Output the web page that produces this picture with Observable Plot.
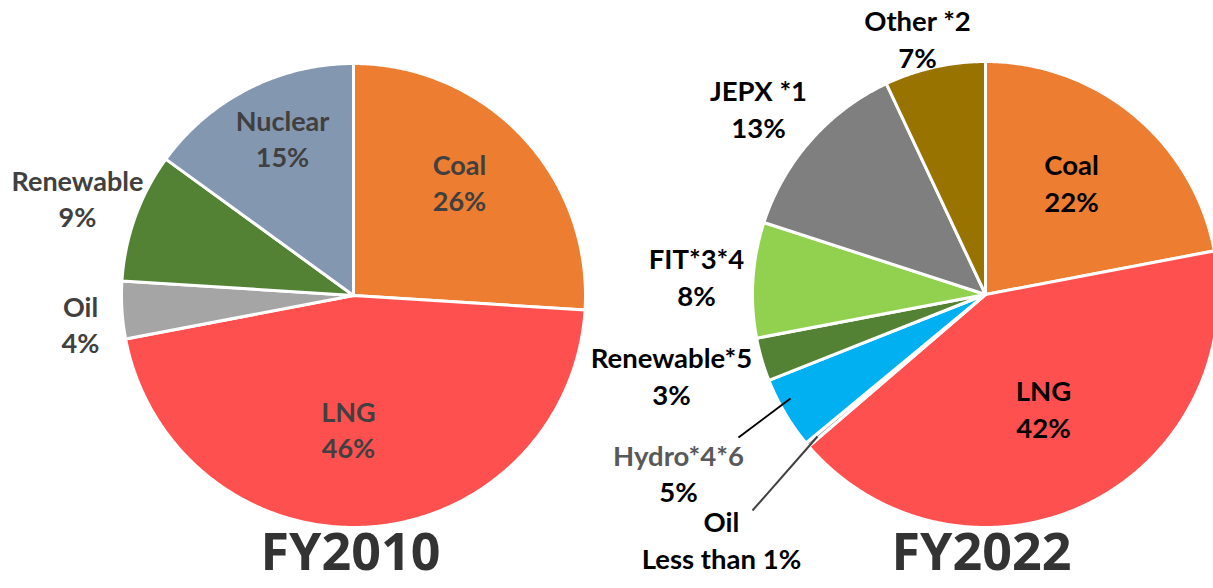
<!DOCTYPE html>
<html>
<head>
<meta charset="utf-8">
<script src="https://cdn.jsdelivr.net/npm/d3@7"></script>
<script src="https://cdn.jsdelivr.net/npm/@observablehq/plot@0.6"></script>
<style>
  html, body { margin: 0; padding: 0; background: #fff; }
  #chart svg { display: block; }
</style>
</head>
<body>
<div id="chart"></div>
<script>
// ---- Data (clockwise from 12 o'clock) ----
const fy2010Sources = ["Coal", "LNG", "Oil", "Renewable", "Nuclear"];
const fy2010Shares  = [26, 46, 4, 9, 15];
const fy2010Colors  = ["#ED7D31", "#FF5050", "#A5A5A5", "#548235", "#8497B0"];
const fy2010Pct     = ["26%", "46%", "4%", "9%", "15%"];

const fy2022Sources = ["Coal", "LNG", "Oil", "Hydro*4*6", "Renewable*5", "FIT*3*4", "JEPX *1", "Other *2"];
const fy2022Shares  = [22, 41.7, 0.3, 5, 3, 8, 13, 7];
const fy2022Colors  = ["#ED7D31", "#FF5050", "#A5A5A5", "#00B0F0", "#548235", "#92D050", "#7F7F7F", "#997300"];
const fy2022Pct     = ["22%", "42%", "Less than 1%", "5%", "3%", "8%", "13%", "7%"];

const titles = ["FY2010", "FY2022"];

// ---- Layout ----
const W = 1213, H = 588;
const pies = [
  {cx: 353, cy: 295, r: 232},
  {cx: 985, cy: 294, r: 233}
];
// label anchor: x center, baseline of last line
const labelPos2010 = {
  "Coal": [459, 210], "LNG": [348, 457], "Oil": [80, 352], "Renewable": [77, 226], "Nuclear": [282, 166]
};
const labelPos2022 = {
  "Coal": [1071, 211], "LNG": [1043, 437], "Oil": [721, 568],
  "Renewable*5": [671, 404], "FIT*3*4": [696, 305], "JEPX *1": [758, 137], "Other *2": [917, 67]
};
const hydroNamePos = [678, 465], hydroPctPos = [678, 501];
const leaders = [
  {x1: 790, y1: 398, x2: 738, y2: 437, stroke: "#000"},
  {x1: 817, y1: 436, x2: 752, y2: 510, stroke: "#404040"}
];
const titlePos = [[350, 569], [981, 569]];

// ---- Build slice polygons from the data ----
function slices(names, values, colors, pie, key) {
  const total = d3.sum(values);
  const pts = [];
  let cum = 0;
  names.forEach((name, i) => {
    const a0 = cum / total * 2 * Math.PI;
    cum += values[i];
    const a1 = cum / total * 2 * Math.PI;
    const id = key + ":" + name;
    pts.push({id, color: colors[i], x: pie.cx, y: pie.cy});
    const n = Math.max(2, Math.ceil((a1 - a0) / (Math.PI / 360)));
    for (let k = 0; k <= n; k++) {
      const a = a0 + (a1 - a0) * k / n;
      pts.push({id, color: colors[i], x: pie.cx + pie.r * Math.sin(a), y: pie.cy - pie.r * Math.cos(a)});
    }
  });
  return pts;
}
const slicePts = [
  ...slices(fy2010Sources, fy2010Shares, fy2010Colors, pies[0], "2010"),
  ...slices(fy2022Sources, fy2022Shares, fy2022Colors, pies[1], "2022")
];

const labels2010 = fy2010Sources.map((s, i) => ({
  text: s + "\n" + fy2010Pct[i], x: labelPos2010[s][0], y: labelPos2010[s][1]
}));
const labels2022 = fy2022Sources.filter(s => labelPos2022[s]).map(s => {
  const i = fy2022Sources.indexOf(s);
  return {text: s + "\n" + fy2022Pct[i], x: labelPos2022[s][0], y: labelPos2022[s][1]};
});
const hydroIdx = fy2022Sources.indexOf("Hydro*4*6");
const titleData = titles.map((t, i) => ({text: t, x: titlePos[i][0], y: titlePos[i][1]}));

const font = "Lato, 'Open Sans', sans-serif";

const chart = Plot.plot({
  width: W, height: H,
  margin: 0,
  x: {domain: [0, W], range: [0, W], axis: null},
  y: {domain: [0, H], range: [0, H], axis: null},
  color: {type: "identity"},
  style: {fontFamily: font, background: "#fff", overflow: "hidden"},
  marks: [
    Plot.line(slicePts, {x: "x", y: "y", z: "id", fill: "color", stroke: "white", strokeWidth: 3, strokeLinejoin: "round", curve: "linear-closed"}),
    Plot.link(leaders, {x1: "x1", y1: "y1", x2: "x2", y2: "y2", stroke: "stroke", strokeWidth: 2}),
    Plot.text(labels2010, {x: "x", y: "y", text: "text", fontSize: 27, fontWeight: "bold", fill: "#404040", lineAnchor: "bottom", lineHeight: 1.31, textAnchor: "middle"}),
    Plot.text(labels2022, {x: "x", y: "y", text: "text", fontSize: 27.5, fontWeight: "bold", fill: "#000", lineAnchor: "bottom", lineHeight: 1.34, textAnchor: "middle"}),
    Plot.text([fy2022Sources[hydroIdx]], {x: () => hydroNamePos[0], y: () => hydroNamePos[1], text: d => d, fontSize: 27.5, fontWeight: "bold", fill: "#595959", lineAnchor: "bottom", textAnchor: "middle"}),
    Plot.text([fy2022Pct[hydroIdx]], {x: () => hydroPctPos[0], y: () => hydroPctPos[1], text: d => d, fontSize: 27.5, fontWeight: "bold", fill: "#000", lineAnchor: "bottom", textAnchor: "middle"}),
    Plot.text(titleData, {x: "x", y: "y", text: "text", fontSize: 52, fontWeight: "bold", fill: "#333", fontFamily: "'Open Sans', sans-serif", lineAnchor: "bottom", textAnchor: "middle"})
  ]
});
document.getElementById("chart").appendChild(chart);
</script>
</body>
</html>
